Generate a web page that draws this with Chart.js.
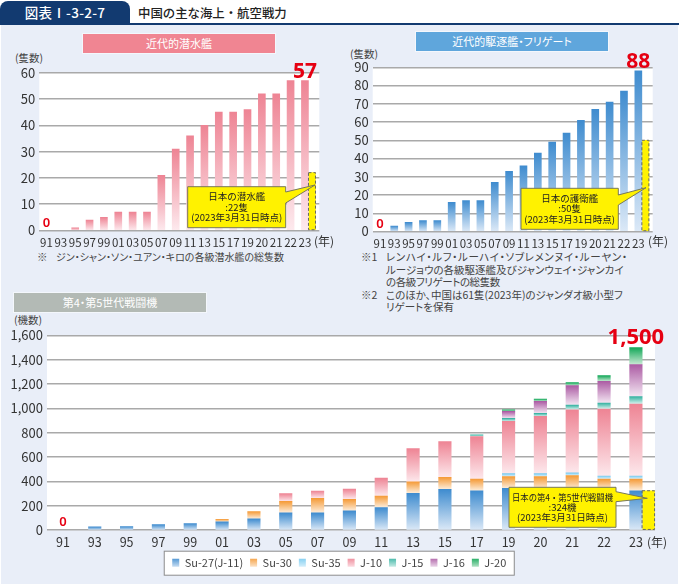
<!DOCTYPE html>
<html lang="ja">
<head>
<meta charset="utf-8">
<title>中国の主な海上・航空戦力</title>
<script src="https://cdn.jsdelivr.net/npm/chart.js@4"></script>
<style>
  html, body { margin: 0; padding: 0; background: #fff; }
  #page { position: relative; width: 679px; height: 584px; overflow: hidden; background: #fff;
          font-family: "Noto Sans CJK JP", "Noto Sans", sans-serif; color: #333; }
  #panel { position: absolute; left: 1px; top: 24px; width: 677px; height: 560px; background: #e9eef8; }
  #rule { position: absolute; left: 0; top: 23px; width: 679px; height: 2px; background: #123a70; }
  #tab { position: absolute; left: 0; top: 1px; width: 130px; height: 23px; background: #123a70;
         border-radius: 8px 8px 0 0; color: #fff; text-align: center; font-size: 13.5px; line-height: 23px; font-weight: 500; letter-spacing: .3px; }
  #title { position: absolute; left: 138px; top: 3px; font-size: 12.4px; line-height: 20px; color: #222; font-weight: 500; white-space: nowrap; }
  .banner { position: absolute; width: 192px; height: 19px; color: #fff; text-align: center;
            font-size: 11px; line-height: 19px; font-feature-settings: "palt"; box-shadow: 0 0 0 1px rgba(255,255,255,.5); }
  .t { position: absolute; font-size: 10.5px; line-height: 14px; white-space: nowrap; font-feature-settings: "palt"; color: #444; }
  canvas { position: absolute; }
</style>
</head>
<body>
<div id="page">
  <div id="panel"></div>
  <div id="rule"></div>
  <div id="tab">図表Ⅰ-3-2-7</div>
  <div id="title">中国の主な海上・航空戦力</div>

  <div class="banner" style="left:83px;top:34px;background:#f08592">近代的潜水艦</div>
  <div class="banner" style="left:416px;top:32px;background:#5fa6dc">近代的駆逐艦・フリゲート</div>
  <div class="banner" style="left:14px;top:293px;background:#b3bab5">第4・第5世代戦闘機</div>

  <div class="t" style="left:15px;top:51px">(隻数)</div>
  <div class="t" style="left:350px;top:47px">(隻数)</div>
  <div class="t" style="left:14px;top:313px">(機数)</div>

  <div class="t" style="left:37px;top:250px">※</div>
  <div class="t" style="left:56px;top:250px;font-size:10px">ジン・シャン・ソン・ユアン・キロの各級潜水艦の総隻数</div>

  <div class="t" style="left:361px;top:250px">※1</div>
  <div class="t" style="left:386px;top:250px;letter-spacing:.65px">レンハイ・ルフ・ルーハイ・ソブレメンヌイ・ルーヤン・</div>
  <div class="t" style="left:386px;top:263px">ルージョウの各級駆逐艦及びジャンウェイ・ジャンカイ</div>
  <div class="t" style="left:386px;top:275px;letter-spacing:-.4px">の各級フリゲートの総隻数</div>
  <div class="t" style="left:361px;top:288px">※2</div>
  <div class="t" style="left:386px;top:288px">このほか、中国は61隻(2023年)のジャンダオ級小型フ</div>
  <div class="t" style="left:386px;top:300px">リゲートを保有</div>

  <canvas id="submarineChart"></canvas>
  <canvas id="destroyerChart"></canvas>
  <canvas id="fighterChart"></canvas>
</div>

<script>
const yearLabels = ['91','93','95','97','99','01','03','05','07','09','11','13','15','17','19','20','21','22','23'];

const submarines = [0,0,1,4,5,7,7,7,21,31,36,40,45,45,46,52,52,57,57];
const japanSubmarines = 22;
const submarineTicks = [0,10,20,30,40,50,60];

const destroyers = [0,3,5,6,6,16,17,17,27,33,36,43,49,54,61,67,71,77,88];
const japanDestroyers = 50;
const destroyerTicks = [0,10,20,30,40,50,60,70,80,90];

const su27 = [0,27,30,46,55,68,93,142,142,158,186,302,335,324,343,335,335,335,324];
const su30 = [0,0,0,0,0,22,60,95,120,96,95,96,99,96,97,105,113,85,96];
const su35 = [0,0,0,0,0,0,0,0,0,0,0,0,0,0,24,24,22,25,25];
const j10  = [0,0,0,0,0,0,0,63,60,84,147,272,294,349,429,470,519,550,591];
const j15  = [0,0,0,0,0,0,0,0,0,0,0,0,0,14,25,25,38,49,60];
const j16  = [0,0,0,0,0,0,0,0,0,0,0,0,0,0,57,99,160,179,264];
const j20  = [0,0,0,0,0,0,0,0,0,0,0,0,0,0,14,19,24,46,140];
const japanFighters = 324;
const fighterTicks = [0,200,400,600,800,1000,1200,1400,1600];

const JP_FONT = '"Noto Sans CJK JP", "Noto Sans", sans-serif';
const RED = '#e60012';
const YELLOW = '#fff200';

// 上端の色から下端の淡い色へ、棒ごとにグラデーション
function barGradient(top, bottom) {
  return function (ctx) {
    if (ctx.type !== 'data') return top;
    const chart = ctx.chart;
    const yScale = chart.scales.y;
    const point = ctx.raw;
    let base = 0;
    for (let i = 0; i < ctx.datasetIndex; i++) {
      const other = chart.data.datasets[i].data[ctx.dataIndex];
      if (other && other.x === point.x) base += other.y;
    }
    const y0 = yScale.getPixelForValue(base + point.y);
    const y1 = yScale.getPixelForValue(base);
    if (!Number.isFinite(y0) || !Number.isFinite(y1)) return top; // レイアウト前
    const g = chart.ctx.createLinearGradient(0, y0, 0, y1);
    g.addColorStop(0, top);
    g.addColorStop(1, bottom);
    return g;
  };
}

function toPoints(values) {
  return values.map(function (v, i) { return { x: i, y: v }; });
}

// 白い描画領域、年ラベル、数値、吹き出しをまとめて描くプラグイン
const decorations = {
  id: 'decorations',
  afterLayout(chart, args, opts) {
    // 凡例の枠はページ中央に置きたいので左端をずらす
    if (opts.legendShift) chart.legend.left += opts.legendShift;
  },
  beforeDraw(chart, args, opts) {
    const a = chart.chartArea, c = chart.ctx;
    c.save();
    c.fillStyle = '#fff';
    c.fillRect(a.left, a.top, a.right - a.left, a.bottom - a.top);
    c.restore();
    if (opts.legendShift) drawLegendBox(chart);
  },
  afterDraw(chart, args, opts) {
    const c = chart.ctx, x = chart.scales.x, y = chart.scales.y;
    c.save();

    // 日本の棒の破線
    const jpMeta = chart.getDatasetMeta(chart.data.datasets.length - 1);
    const bar = jpMeta.data[0];
    c.strokeStyle = '#666';
    c.lineWidth = 1;
    c.setLineDash([3, 2]);
    c.strokeRect(bar.x - bar.width / 2, bar.y, bar.width, bar.base - bar.y);
    c.setLineDash([]);

    // 最新値と 0
    c.fillStyle = RED;
    c.textAlign = 'center';
    c.textBaseline = 'alphabetic';
    c.font = '700 ' + opts.peakSize + 'px "Noto Sans", sans-serif';
    c.fillText(opts.peak, x.getPixelForValue(yearLabels.length - 1), y.getPixelForValue(opts.total) - 3);
    c.font = '600 13px "Noto Sans", sans-serif';
    c.fillText('0', x.getPixelForValue(0), y.getPixelForValue(0) - 4);

    // (年)
    c.fillStyle = '#333';
    c.textAlign = 'left';
    c.textBaseline = 'middle';
    c.font = '12px ' + JP_FONT;
    c.fillText('(年)', opts.unitX - opts.origin.x, opts.tickY - opts.origin.y);

    // 吹き出し
    const b = opts.callout, ox = opts.origin.x, oy = opts.origin.y;
    c.beginPath();
    c.moveTo(b.left - ox, b.top - oy);
    c.lineTo(b.right - ox, b.top - oy);
    c.lineTo(b.right - ox, b.tailTop - oy);
    c.lineTo(b.tipX - ox, b.tipY - oy);
    c.lineTo(b.right - ox, b.tailBottom - oy);
    c.lineTo(b.right - ox, b.bottom - oy);
    c.lineTo(b.left - ox, b.bottom - oy);
    c.closePath();
    c.fillStyle = YELLOW;
    c.fill();
    c.strokeStyle = '#77785a';
    c.lineWidth = 1;
    c.stroke();
    c.fillStyle = '#222';
    c.textAlign = 'center';
    c.font = '9.5px ' + JP_FONT;
    const cx = (b.left + b.right) / 2 - ox;
    const midY = (b.top + b.bottom) / 2 - oy;
    b.lines.forEach(function (line, i) {
      c.fillText(line, cx, midY + (i - 1) * 10.4, b.right - b.left - 6);
    });
    c.restore();
  }
};

function drawLegendBox(chart) {
  const legend = chart.legend, c = chart.ctx;
  const boxes = legend.legendHitBoxes;
  if (!boxes || !boxes.length) return;
  const first = boxes[0], last = boxes[boxes.length - 1];
  c.save();
  c.fillStyle = '#fff';
  c.strokeStyle = '#8c8c8c';
  c.lineWidth = 1;
  c.fillRect(first.left - 8, first.top - 6, last.left + last.width - first.left + 16, 24);
  c.strokeRect(first.left - 8, first.top - 6, last.left + last.width - first.left + 16, 24);
  c.restore();
  legend.legendItems.forEach(function (item, i) {
    const ds = chart.data.datasets[i];
    const g = c.createLinearGradient(0, boxes[i].top, 0, boxes[i].top + boxes[i].height);
    g.addColorStop(0, ds.swatch[0]);
    g.addColorStop(1, ds.swatch[1]);
    item.fillStyle = g;
    item.strokeStyle = 'rgba(0,0,0,0)';
  });
}

function makeChart(id, place, plot, datasets, ticks, maxX, extras) {
  const canvas = document.getElementById(id);
  canvas.width = place.w;
  canvas.height = place.h;
  canvas.style.left = place.x + 'px';
  canvas.style.top = place.y + 'px';
  canvas.style.width = place.w + 'px';
  canvas.style.height = place.h + 'px';
  const yWidth = plot.left - place.x;
  const xHeight = 20;
  const tickSize = extras.tickSize;
  return new Chart(canvas.getContext('2d'), {
    type: 'bar',
    data: { datasets: datasets },
    plugins: [decorations],
    options: {
      responsive: false,
      animation: false,
      layout: {
        autoPadding: false,
        padding: {
          left: 0,
          top: plot.top - place.y,
          right: place.x + place.w - plot.right,
          bottom: place.y + place.h - plot.bottom - xHeight - (extras.legendHeight || 0)
        }
      },
      scales: {
        x: {
          type: 'linear',
          bounds: 'data',
          offset: false,
          stacked: true,
          min: -0.5,
          max: maxX,
          grid: { display: false, drawTicks: false, offset: false },
          border: { display: false },
          afterFit(scale) { scale.height = xHeight; },
          afterBuildTicks(scale) { scale.ticks = yearLabels.map(function (l, i) { return { value: i }; }); },
          ticks: {
            autoSkip: false,
            maxRotation: 0,
            padding: 5,
            color: '#333',
            font: { family: JP_FONT, size: tickSize },
            callback(value) { return yearLabels[value]; }
          }
        },
        y: {
          stacked: true,
          min: 0,
          max: ticks[ticks.length - 1],
          grid: { color: '#a9a9a9', lineWidth: 1.5, drawTicks: false },
          border: { display: false },
          afterFit(scale) { scale.width = yWidth; },
          afterBuildTicks(scale) { scale.ticks = ticks.map(function (v) { return { value: v }; }); },
          ticks: {
            autoSkip: false,
            padding: 4,
            color: '#333',
            font: { family: JP_FONT, size: 13 },
            callback(value) { return value.toLocaleString('en-US'); }
          }
        }
      },
      plugins: {
        tooltip: { enabled: false },
        legend: extras.legend || { display: false },
        decorations: extras.decorations
      }
    }
  });
}

makeChart('submarineChart', { x: 0, y: 50, w: 340, h: 205 }, { left: 39.3, right: 319.3, top: 72.7, bottom: 230.5 },
  [
    { label: '中国', data: toPoints(submarines), barThickness: 7, backgroundColor: barGradient('#ee8494', '#fdeaee') },
    { label: '日本', data: [{ x: 18.49, y: japanSubmarines }], barThickness: 7, backgroundColor: YELLOW }
  ],
  submarineTicks, 19,
  {
    tickSize: 11.5,
    decorations: {
      origin: { x: 0, y: 50 }, peak: '57', total: 57, peakSize: 21, unitX: 314, tickY: 241,
      callout: { left: 187.7, right: 285.7, top: 186.7, bottom: 227.7, tailTop: 192, tailBottom: 203, tipX: 315, tipY: 185,
        lines: ['日本の潜水艦', ':22隻', '(2023年3月31日時点)'] }
    }
  });

makeChart('destroyerChart', { x: 340, y: 50, w: 339, h: 205 }, { left: 372.7, right: 652.7, top: 67.3, bottom: 231.5 },
  [
    { label: '中国', data: toPoints(destroyers), barThickness: 7, backgroundColor: barGradient('#3f8ccf', '#dce9f7') },
    { label: '日本', data: [{ x: 18.49, y: japanDestroyers }], barThickness: 7, backgroundColor: YELLOW }
  ],
  destroyerTicks, 19,
  {
    tickSize: 11.5,
    decorations: {
      origin: { x: 340, y: 50 }, peak: '88', total: 88, peakSize: 21, unitX: 648, tickY: 241,
      callout: { left: 521, right: 618.3, top: 188.3, bottom: 229.3, tailTop: 195, tailBottom: 205, tipX: 646, tipY: 187.7,
        lines: ['日本の護衛艦', ':50隻', '(2023年3月31日時点)'] }
    }
  });

const fighterSeries = [
  { label: 'Su-27(J-11)', values: su27, colors: ['#3f8ccf', '#dce9f7'] },
  { label: 'Su-30', values: su30, colors: ['#f59b38', '#fdeedd'] },
  { label: 'Su-35', values: su35, colors: ['#79cbf0', '#e3f4fc'] },
  { label: 'J-10', values: j10, colors: ['#ee8494', '#fde8ec'] },
  { label: 'J-15', values: j15, colors: ['#37b3a2', '#dcf3ef'] },
  { label: 'J-16', values: j16, colors: ['#ac5ca4', '#f3e6f2'] },
  { label: 'J-20', values: j20, colors: ['#12a858', '#c9e9d4'] }
];

makeChart('fighterChart', { x: 0, y: 315, w: 679, h: 269 }, { left: 47, right: 655, top: 335.3, bottom: 530.7 },
  fighterSeries.map(function (s) {
    return {
      label: s.label,
      data: toPoints(s.values),
      barThickness: 12.5,
      backgroundColor: barGradient(s.colors[0], s.colors[1]),
      swatch: s.colors
    };
  }).concat([{ label: '日本', data: [{ x: 18.39, y: japanFighters }], barThickness: 12.5, backgroundColor: YELLOW, swatch: [YELLOW, YELLOW] }]),
  fighterTicks, 18.6,
  {
    tickSize: 12.5,
    legendHeight: 27.5,
    legend: {
      display: true,
      position: 'bottom',
      labels: {
        boxWidth: 7,
        boxHeight: 8,
        padding: 7,
        color: '#444',
        font: { family: JP_FONT, size: 11 },
        filter(item) { return item.text !== '日本'; }
      }
    },
    decorations: {
      origin: { x: 0, y: 315 }, peak: '1,500', total: 1500, peakSize: 22, unitX: 647, tickY: 542, legendShift: 23.5,
      callout: { left: 509, right: 616, top: 487.3, bottom: 527.3, tailTop: 491.7, tailBottom: 501.7, tipX: 647.3, tipY: 498.3,
        lines: ['日本の第4・第5世代戦闘機', ':324機', '(2023年3月31日時点)'] }
    }
  });
</script>
</body>
</html>
